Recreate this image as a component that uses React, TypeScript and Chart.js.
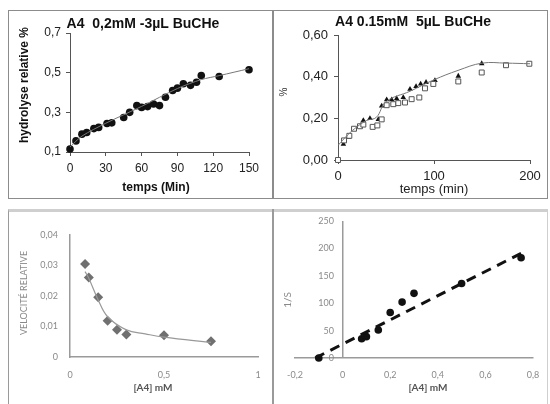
import React, { useEffect, useRef } from "react";
import { Chart, registerables } from "chart.js";
Chart.register(...registerables);

// ---------- Data ----------
// Panel 1: A4 0,2mM -3µL BuCHe
const p1Time = [0, 5, 10, 14, 20, 24, 31, 35, 45, 50, 56, 60, 65, 70, 75, 80, 86, 90, 95, 101, 106, 110, 125, 150];
const p1Hydro = [0.115, 0.156, 0.19, 0.198, 0.218, 0.224, 0.244, 0.247, 0.274, 0.3, 0.334, 0.325, 0.329, 0.342, 0.334, 0.376, 0.41, 0.422, 0.444, 0.436, 0.452, 0.486, 0.481, 0.515];
const p1TrendTime = [0, 10, 30, 60, 90, 110, 125, 150];
const p1TrendVal = [0.125, 0.18, 0.245, 0.33, 0.42, 0.465, 0.485, 0.52];

// Panel 2: A4 0.15mM 5µL BuCHe
const p2FilledTime = [5.6, 10.8, 26.4, 33.3, 42, 45.5, 50.7, 55.9, 61.1, 68, 75, 81.3, 86.1, 91.7, 101, 125.3, 149.7];
const p2FilledVal = [0.076, 0.11, 0.19, 0.2, 0.195, 0.26, 0.29, 0.29, 0.295, 0.3, 0.34, 0.353, 0.365, 0.373, 0.382, 0.403, 0.463];
const p2OpenTime = [0, 6.3, 11.8, 16.7, 22.9, 26.4, 36.1, 41, 45.5, 50.7, 57.6, 62.8, 69.8, 76.7, 84.7, 90.6, 99.3, 125.3, 149.7, 175, 199.3];
const p2OpenVal = [0, 0.094, 0.116, 0.15, 0.162, 0.17, 0.159, 0.166, 0.195, 0.263, 0.268, 0.273, 0.276, 0.292, 0.3, 0.344, 0.365, 0.377, 0.42, 0.455, 0.462];
const p2CurveTime = [0, 10, 20, 30, 40, 50, 75, 100, 125, 150, 175, 200];
const p2CurveVal = [0.07, 0.12, 0.16, 0.19, 0.205, 0.28, 0.33, 0.385, 0.43, 0.465, 0.465, 0.462];

// Panel 3: vélocité relative vs [A4]
const p3Conc = [0.08, 0.1, 0.15, 0.2, 0.25, 0.3, 0.5, 0.75];
const p3Vel = [0.0305, 0.0261, 0.0196, 0.0119, 0.0089, 0.0074, 0.0071, 0.0052];
const p3CurveConc = [0.08, 0.1, 0.15, 0.2, 0.3, 0.4, 0.5, 0.75];
const p3CurveVel = [0.028, 0.0258, 0.0187, 0.0132, 0.0089, 0.0076, 0.0065, 0.0048];

// Panel 4: 1/S vs [A4]
const p4Conc = [-0.1, 0.08, 0.1, 0.15, 0.2, 0.25, 0.3, 0.5, 0.75];
const p4InvS = [0, 35, 39, 51, 83, 102, 118, 136, 183];
const p4LineConc = [-0.115, 0.75];
const p4LineVal = [0, 191];

const pts = (xs: number[], ys: number[]) => xs.map((x, i) => ({ x, y: ys[i] }));
const comma = (v: number, d: number) => Number(v).toFixed(d).replace(".", ",");
const commaTrim = (v: number) => String(Number(Number(v).toFixed(4))).replace(".", ",");

type Txt = { t: string; x: number; y: number; font: string; color: string; rot?: boolean };

type PanelProps = {
  L: number; T: number; W: number; H: number;
  area: { l: number; t: number; r: number; b: number };
  yW: number; xH: number; freeYLabels?: boolean;
  datasets: any[]; xOpts: any; yOpts: any; texts: Txt[];
};

function Panel(p: PanelProps) {
  const ref = useRef<HTMLCanvasElement>(null);
  useEffect(() => {
    const textPlugin = {
      id: "txt",
      afterDraw(chart: any) {
        const ctx = chart.ctx;
        for (const it of p.texts) {
          ctx.save();
          ctx.font = it.font;
          ctx.fillStyle = it.color;
          ctx.textAlign = "center";
          ctx.textBaseline = "middle";
          ctx.translate(it.x - p.L, it.y - p.T);
          if (it.rot) ctx.rotate(-Math.PI / 2);
          ctx.fillText(it.t, 0, 0);
          ctx.restore();
        }
      },
    };
    const a = p.area;
    const chart = new Chart(ref.current!, {
      type: "scatter",
      data: { datasets: p.datasets },
      options: {
        responsive: false,
        animation: false,
        events: [],
        layout: {
          padding: {
            left: a.l - p.L - p.yW,
            top: a.t - p.T,
            right: p.L + p.W - a.r,
            bottom: p.T + p.H - a.b - p.xH,
          },
        },
        plugins: { legend: { display: false }, tooltip: { enabled: false }, title: { display: false } },
        scales: {
          x: {
            type: "linear",
            ...p.xOpts,
            afterFit: (s: any) => { s.height = p.xH; s.paddingLeft = 0; s.paddingRight = 0; },
          },
          y: {
            type: "linear",
            ...p.yOpts,
            afterFit: (s: any) => {
              s.width = p.yW; s.paddingTop = 0; s.paddingBottom = 0;
              // let tick labels sit next to the x = 0 axis line (inside the plot)
              if (p.freeYLabels) s._computeLabelArea = () => undefined;
            },
          },
        },
      },
      plugins: [textPlugin],
    });
    return () => chart.destroy();
  }, []);
  return (
    <canvas
      ref={ref}
      width={p.W}
      height={p.H}
      style={{ position: "absolute", left: p.L, top: p.T, width: p.W, height: p.H }}
    />
  );
}

const ARIAL = "'Liberation Sans', Arial, sans-serif";
const CAL = "Lato, 'Open Sans', sans-serif";

export default function App() {
  const axisDark = "#555";
  const p1 = (
    <Panel
      L={9} T={11} W={262} H={187}
      area={{ l: 70, t: 33, r: 249, b: 152 }}
      yW={40} xH={28}
      datasets={[
        { data: pts(p1TrendTime, p1TrendVal), showLine: true, pointRadius: 0, borderColor: "#777", borderWidth: 1, tension: 0.3 },
        { data: pts(p1Time, p1Hydro), pointRadius: 3.8, backgroundColor: "#111", borderColor: "#111", borderWidth: 0, clip: false },
      ]}
      xOpts={{
        min: 0, max: 150,
        ticks: { stepSize: 30, color: "#222", font: { family: ARIAL, size: 12 }, padding: 5, maxRotation: 0 },
        grid: { display: true, drawOnChartArea: false, drawTicks: true, tickLength: 4, color: axisDark },
        border: { display: true, color: axisDark, width: 1 },
      }}
      yOpts={{
        min: 0.1, max: 0.7,
        ticks: { stepSize: 0.2, color: "#222", font: { family: ARIAL, size: 12 }, padding: 5, callback: (v: number) => comma(v, 1) },
        grid: { display: true, drawOnChartArea: false, drawTicks: true, tickLength: 4, color: axisDark },
        border: { display: true, color: axisDark, width: 1 },
      }}
      texts={[
        { t: "A4  0,2mM -3µL BuCHe", x: 143, y: 24, font: `bold 14px ${ARIAL}`, color: "#111" },
        { t: "hydrolyse relative %", x: 25, y: 85, font: `bold 12px ${ARIAL}`, color: "#111", rot: true },
        { t: "temps (Min)", x: 156, y: 188, font: `bold 12px ${ARIAL}`, color: "#111" },
      ]}
    />
  );

  const p2 = (
    <Panel
      L={274} T={11} W={273} H={187}
      area={{ l: 338, t: 35, r: 530, b: 160 }}
      yW={40} xH={24}
      datasets={[
        { data: pts(p2CurveTime, p2CurveVal), showLine: true, pointRadius: 0, borderColor: "#777", borderWidth: 1, tension: 0.4 },
        { data: pts(p2OpenTime, p2OpenVal), pointStyle: "rect", pointRadius: 3.5, backgroundColor: "#fff", borderColor: "#555", borderWidth: 1, clip: false },
        { data: pts(p2FilledTime, p2FilledVal), pointStyle: "triangle", pointRadius: 3.2, backgroundColor: "#111", borderColor: "#111", borderWidth: 0, clip: false },
      ]}
      xOpts={{
        min: 0, max: 200,
        ticks: { stepSize: 100, color: "#222", font: { family: ARIAL, size: 13 }, padding: 5, maxRotation: 0 },
        grid: { display: true, drawOnChartArea: false, drawTicks: true, tickLength: 4, color: axisDark },
        border: { display: true, color: axisDark, width: 1 },
      }}
      yOpts={{
        min: 0, max: 0.6,
        ticks: { stepSize: 0.2, color: "#222", font: { family: ARIAL, size: 13 }, padding: 6, callback: (v: number) => comma(v, 2) },
        grid: { display: true, drawOnChartArea: false, drawTicks: true, tickLength: 4, color: axisDark },
        border: { display: true, color: axisDark, width: 1 },
      }}
      texts={[
        { t: "A4 0.15mM  5µL BuCHe", x: 413, y: 22, font: `bold 14px ${ARIAL}`, color: "#111" },
        { t: "%", x: 284, y: 92, font: `10px ${ARIAL}`, color: "#333", rot: true },
        { t: "temps (min)", x: 434, y: 189, font: `13px ${ARIAL}`, color: "#222" },
      ]}
    />
  );

  const grayAxis = "#9a9a9a";
  const p3 = (
    <Panel
      L={9} T={214} W={262} H={190}
      area={{ l: 70, t: 235, r: 258, b: 357 }}
      yW={40} xH={26}
      datasets={[
        { data: pts(p3CurveConc, p3CurveVel), showLine: true, pointRadius: 0, borderColor: "#999", borderWidth: 1.2, tension: 0.4 },
        { data: pts(p3Conc, p3Vel), pointStyle: "rectRot", pointRadius: 5, backgroundColor: "#707070", borderColor: "#707070", borderWidth: 0, clip: false },
      ]}
      xOpts={{
        min: 0, max: 1,
        ticks: { stepSize: 0.5, color: "#8a8a8a", font: { family: CAL, size: 9 }, padding: 13, maxRotation: 0, callback: (v: number) => commaTrim(v) },
        grid: { display: false, drawTicks: false },
        border: { display: true, color: grayAxis, width: 1.5 },
      }}
      yOpts={{
        min: 0, max: 0.04,
        ticks: { stepSize: 0.01, color: "#8a8a8a", font: { family: CAL, size: 9 }, padding: 12, callback: (v: number) => commaTrim(v) },
        grid: { display: false, drawTicks: false },
        border: { display: true, color: grayAxis, width: 1.5 },
      }}
      texts={[
        { t: "VELOCITÉ RELATIVE", x: 24, y: 293, font: `9px ${CAL}`, color: "#8a8a8a", rot: true },
        { t: "[A4] mM", x: 153, y: 388, font: `bold 10px ${CAL}`, color: "#555" },
      ]}
    />
  );

  const p4 = (
    <Panel
      L={274} T={214} W={273} H={190}
      area={{ l: 295, t: 221, r: 533, b: 358 }}
      yW={18} xH={26} freeYLabels
      datasets={[
        { data: pts(p4LineConc, p4LineVal), showLine: true, pointRadius: 0, borderColor: "#111", borderWidth: 3, borderDash: [10, 7], clip: false },
        { data: pts(p4Conc, p4InvS), pointStyle: "circle", pointRadius: 3.8, backgroundColor: "#111", borderColor: "#111", borderWidth: 0, clip: false },
      ]}
      xOpts={{
        min: -0.2, max: 0.8,
        ticks: { stepSize: 0.2, color: "#8a8a8a", font: { family: CAL, size: 9 }, padding: 12, maxRotation: 0, callback: (v: number) => commaTrim(v) },
        grid: {
          display: true, drawOnChartArea: true, drawTicks: false, lineWidth: 1.5,
          color: (c: any) => (c.tick && Math.abs(c.tick.value) < 1e-9 ? grayAxis : "rgba(0,0,0,0)"),
        },
        border: { display: true, color: grayAxis, width: 1.5 },
      }}
      yOpts={{
        min: 0, max: 250,
        ticks: { stepSize: 50, color: "#8a8a8a", font: { family: CAL, size: 9 }, padding: -39 },
        grid: { display: false, drawTicks: false },
        border: { display: false },
      }}
      texts={[
        { t: "1/S", x: 288, y: 300, font: `10px ${CAL}`, color: "#8a8a8a", rot: true },
        { t: "[A4] mM", x: 428, y: 388, font: `bold 10px ${CAL}`, color: "#555" },
      ]}
    />
  );

  return (
    <div style={{ position: "absolute", left: 0, top: 0, width: 550, height: 404, overflow: "hidden", background: "#fff" }}>
      {/* top frame */}
      <div style={{ position: "absolute", left: 8, top: 10, width: 540, height: 189, boxSizing: "border-box", border: "1.5px solid #8c8c8c" }} />
      <div style={{ position: "absolute", left: 272, top: 10, width: 1.5, height: 189, background: "#8c8c8c" }} />
      {/* bottom frame */}
      <div style={{ position: "absolute", left: 8, top: 209, width: 540, height: 200, boxSizing: "border-box", borderTop: "3px solid #cfcfcf", borderLeft: "1.5px solid #9a9a9a", borderRight: "1.5px solid #cfcfcf" }} />
      <div style={{ position: "absolute", left: 272, top: 209, width: 1.5, height: 200, background: "#9a9a9a" }} />
      {p1}
      {p2}
      {p3}
      {p4}
    </div>
  );
}
